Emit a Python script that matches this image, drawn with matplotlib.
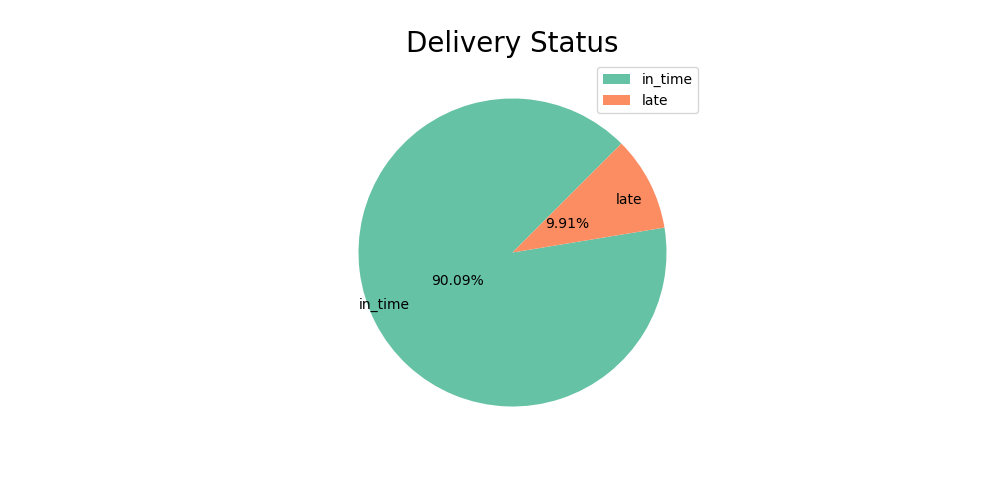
import matplotlib
matplotlib.use("Agg")
import matplotlib.pyplot as plt

categories = ["in_time", "late"]
values = [90.09, 9.91]
colors = ["#66c2a5", "#fc8d62"]

fig, ax = plt.subplots(figsize=(10, 5), dpi=100)
ax.pie(values, labels=categories, colors=colors, autopct="%.2f%%",
       startangle=45, labeldistance=0.75, pctdistance=0.4)
ax.set_title("Delivery Status", fontsize=20)
ax.legend(loc="upper right")
fig.savefig("out.png")
